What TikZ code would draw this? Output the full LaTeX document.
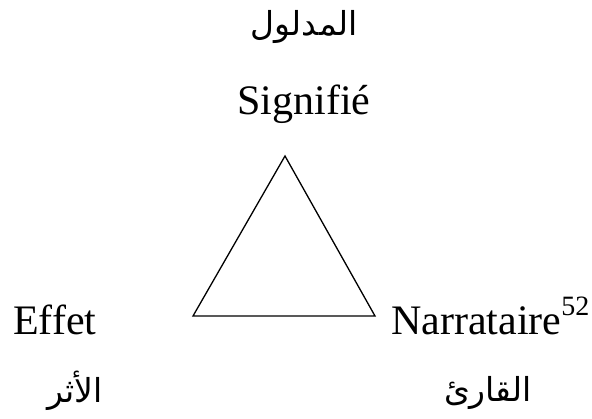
\documentclass[tikz,border=0pt]{standalone}
\usepackage{fontspec}
\usepackage{tikz}
\setmainfont{Liberation Serif}
\newfontfamily\arabicfont[Script=Arabic]{DejaVu Sans}
\TeXXeTstate=1
\newcommand{\termfont}{\fontsize{42}{48}\selectfont}
\newcommand{\arfont}{\arabicfont\fontsize{33}{40}\selectfont}
\newcommand{\notenum}[1]{\raisebox{19pt}{\fontsize{28}{30}\selectfont #1}}

\tikzset{
  term/.style={inner sep=0pt, font=\termfont},
  arterm/.style={inner sep=0pt, font=\arfont},
  side/.style={line width=1.3pt, line join=miter}
}

\begin{document}
\begin{tikzpicture}[x=1pt, y=-1pt]
\useasboundingbox (0,0) rectangle (592,419);
% top corner
\node[arterm] (sigar) at (304,27) {\beginR المدلول\endR};
\node[term, anchor=base] (sig) at (304,115) {Signifié};
% left and right corners
\node[term, anchor=base west] (eff) at (13,335) {Effet};
\node[term, anchor=base west] (nar) at (391,335) {Narrataire\notenum{52}};
\node[arterm] (effar) at (75,391) {\beginR الأثر\endR};
\node[arterm] (narar) at (488,393) {\beginR القارئ\endR};
% triangle
\coordinate (apex) at (285,156);
\coordinate (bl) at (193,316);
\coordinate (br) at (375,316);
\draw[side] (apex) -- (br) -- (bl) -- cycle;
\end{tikzpicture}
\end{document}
